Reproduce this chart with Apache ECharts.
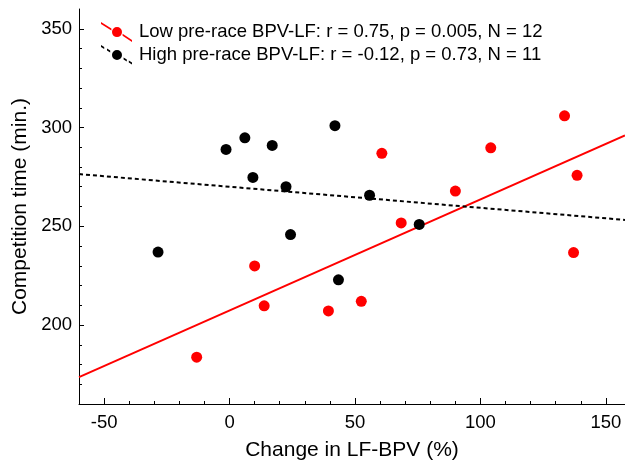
<!DOCTYPE html>
<html>
<head>
<meta charset="utf-8">
<script src="https://cdn.jsdelivr.net/npm/echarts@6/dist/echarts.min.js"></script>
<style>
html,body{margin:0;padding:0;background:#fff;}
#chart{width:625px;height:466px;}
</style>
</head>
<body>
<div id="chart"></div>
<script>
// Data
var lowName = 'Low pre-race BPV-LF: r = 0.75, p = 0.005, N = 12';
var highName = 'High pre-race BPV-LF: r = -0.12, p = 0.73, N = 11';
var lowPoints = [
  [-13.1, 183.7], [10.0, 229.9], [13.8, 209.7], [39.4, 207.1], [52.5, 212.0],
  [60.7, 286.9], [68.4, 251.7], [90.0, 267.8], [104.1, 289.7], [133.5, 305.9],
  [138.5, 275.8], [137.1, 236.7]
];
var highPoints = [
  [-28.5, 236.9], [-1.4, 288.9], [6.1, 294.8], [17.0, 290.9], [9.3, 274.7],
  [22.5, 270.0], [24.3, 245.8], [42.0, 300.9], [55.8, 265.7], [43.4, 222.9],
  [75.6, 250.9]
];
var lowFit = [[-60, 173.6], [157.6, 296.0]];
var highFit = [[-60, 276.4], [157.6, 253.2]];
var xMajor = [-50, 0, 50, 100, 150];
var xMinor = [-50, -40, -30, -20, -10, 0, 10, 20, 30, 40, 50, 60, 70, 80, 90, 100, 110, 120, 130, 140, 150];
var yMajor = [200, 250, 300, 350];
var yMinor = [170, 180, 190, 200, 210, 220, 230, 240, 250, 260, 270, 280, 290, 300, 310, 320, 330, 340, 350];

var FONT = 'Liberation Sans, Arial, sans-serif';
var circ = 'M21,10 A5,5 0 1,1 11,10 A5,5 0 1,1 21,10 Z ';
var redIcon = 'path://M0,-0.1 L10.4,6.3 L10.4,8.3 L0,1.9 Z M21.6,11.7 L31,17.8 L31,19.8 L21.6,13.7 Z ' + circ;
var blackIcon = 'path://M0,-0.1 L3.2,1.9 L3.2,3.9 L0,1.9 Z M6,3.6 L9.2,5.6 L9.2,7.6 L6,5.6 Z M22.6,12.4 L25.8,14.4 L25.8,16.4 L22.6,14.4 Z M27.8,15.6 L31,17.6 L31,19.6 L27.8,17.6 Z ' + circ;

function xAxisBase(extra) {
  var a = {
    type: 'value', min: -60, max: 157.6, position: 'bottom',
    splitLine: {show: false},
    axisLine: {show: true, onZero: false, lineStyle: {color: '#000', width: 1}}
  };
  for (var k in extra) a[k] = extra[k];
  return a;
}
function yAxisBase(extra) {
  var a = {
    type: 'value', min: 160, max: 360, position: 'left',
    splitLine: {show: false},
    axisLine: {show: true, onZero: false, lineStyle: {color: '#000', width: 1}}
  };
  for (var k in extra) a[k] = extra[k];
  return a;
}

var chart = echarts.init(document.getElementById('chart'), null, {renderer: 'canvas'});
chart.setOption({
  animation: false,
  backgroundColor: '#fff',
  textStyle: {fontFamily: FONT},
  grid: {left: 79, top: 9, right: 0, bottom: 61, containLabel: false},
  legend: {
    orient: 'vertical', left: 101, top: 22, padding: 0,
    itemWidth: 31, itemHeight: 20, itemGap: 3,
    textStyle: {fontFamily: FONT, fontSize: 18.5, color: '#000', padding: [0, 0, 0, 2]},
    data: [
      {name: lowName, icon: redIcon},
      {name: highName, icon: blackIcon}
    ]
  },
  xAxis: [
    xAxisBase({
      name: 'Change in LF-BPV (%)', nameLocation: 'middle', nameGap: 36,
      nameTextStyle: {fontFamily: FONT, fontSize: 21, color: '#000'},
      axisTick: {show: true, inside: true, length: 6, customValues: xMajor, lineStyle: {color: '#000'}},
      axisLabel: {show: true, customValues: xMajor, margin: 9, fontFamily: FONT, fontSize: 18.5, color: '#000'}
    }),
    xAxisBase({
      axisLine: {show: false, onZero: false},
      axisTick: {show: true, inside: true, length: 3, customValues: xMinor, lineStyle: {color: '#000'}},
      axisLabel: {show: false}
    })
  ],
  yAxis: [
    yAxisBase({
      name: 'Competition time (min.)', nameLocation: 'middle', nameGap: 43,
      nameTextStyle: {fontFamily: FONT, fontSize: 21, color: '#000'},
      axisTick: {show: true, inside: true, length: 5, customValues: yMajor, lineStyle: {color: '#000'}},
      axisLabel: {show: true, customValues: yMajor, margin: 7, fontFamily: FONT, fontSize: 18.5, color: '#000'}
    }),
    yAxisBase({
      axisLine: {show: false, onZero: false},
      axisTick: {show: true, inside: true, length: 3, customValues: yMinor, lineStyle: {color: '#000'}},
      axisLabel: {show: false}
    })
  ],
  series: [
    {
      name: 'lowFit', type: 'line', data: lowFit, showSymbol: false, symbol: 'none',
      lineStyle: {color: '#ff0000', width: 2}, z: 1, silent: true
    },
    {
      name: 'highFit', type: 'line', data: highFit, showSymbol: false, symbol: 'none',
      lineStyle: {color: '#000', width: 2, type: [4, 3]}, z: 1, silent: true
    },
    {
      name: lowName, type: 'scatter', data: lowPoints, symbol: 'circle', symbolSize: 11,
      itemStyle: {color: '#ff0000', opacity: 1}, z: 3
    },
    {
      name: highName, type: 'scatter', data: highPoints, symbol: 'circle', symbolSize: 11,
      itemStyle: {color: '#000', opacity: 1}, z: 3
    }
  ]
});
</script>
</body>
</html>
